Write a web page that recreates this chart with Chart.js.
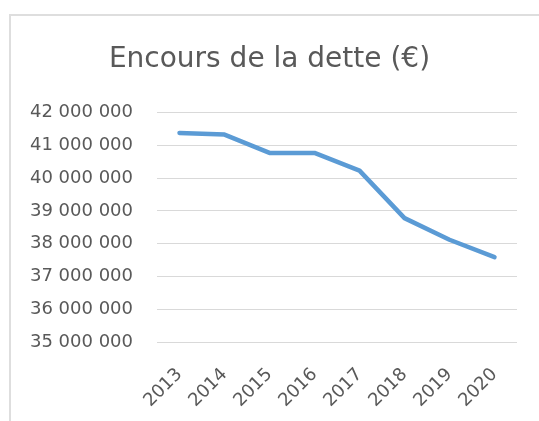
<!DOCTYPE html>
<html>
<head>
<meta charset="utf-8">
<script src="https://cdn.jsdelivr.net/npm/chart.js@4/dist/chart.umd.min.js"></script>
<style>
  html, body { margin: 0; padding: 0; background: #fff; }
  .wrap { position: relative; width: 539px; height: 421px; overflow: hidden; }
  .frame { position: absolute; left: 9px; top: 14px; width: 600px; height: 500px;
           border-left: 2px solid #dedede; border-top: 2px solid #dedede; box-sizing: border-box; }
  #chart { position: absolute; left: 0; top: 0; }
</style>
</head>
<body>
<div class="wrap">
  <div class="frame"></div>
  <canvas id="chart" width="539" height="421"></canvas>
</div>
<script>
// data
const years = ["2013", "2014", "2015", "2016", "2017", "2018", "2019", "2020"];
const debt = [41380000, 41330000, 40770000, 40770000, 40230000, 38780000, 38120000, 37590000];
const yTicks = [35000000, 36000000, 37000000, 38000000, 39000000, 40000000, 41000000, 42000000];

const grey = "#595959";

const fmt = (v) => String(v).replace(/\B(?=(\d{3})+(?!\d))/g, " ");

new Chart(document.getElementById("chart"), {
  type: "line",
  data: {
    labels: years,
    datasets: [
      {
        label: "Encours",
        data: debt,
        borderColor: "#5b9bd5",
        borderWidth: 4.5,
        pointRadius: 0,
        tension: 0,
        borderCapStyle: "round",
        borderJoinStyle: "round",
        fill: false,
      },
    ],
  },
  options: {
    responsive: false,
    animation: false,
    devicePixelRatio: 1,
    layout: { padding: { left: 22, right: 22, top: 0, bottom: 0 } },
    plugins: {
      legend: { display: false },
      tooltip: { enabled: false },
      title: {
        display: true,
        text: "Encours de la dette (€)",
        color: grey,
        font: { family: "DejaVu Sans", size: 28, weight: "normal" },
        padding: { top: 43, bottom: 36 },
      },
    },
    scales: {
      x: {
        offset: true,
        grid: { display: false },
        border: { display: false },
        ticks: {
          color: grey,
          font: { family: "DejaVu Sans", size: 18 },
          minRotation: 45,
          maxRotation: 45,
          padding: 14,
        },
        afterFit: (s) => { s.height = 79; },
      },
      y: {
        min: yTicks[0],
        max: yTicks[yTicks.length - 1],
        afterBuildTicks: (s) => { s.ticks = yTicks.map((v) => ({ value: v })); },
        grid: { color: "#d9d9d9", lineWidth: 1, drawTicks: false },
        border: { display: false },
        ticks: {
          color: grey,
          font: { family: "DejaVu Sans", size: 18 },
          padding: 24,
          callback: (v) => fmt(v),
        },
        afterFit: (s) => { s.width = 135; },
      },
    },
  },
});
</script>
</body>
</html>
